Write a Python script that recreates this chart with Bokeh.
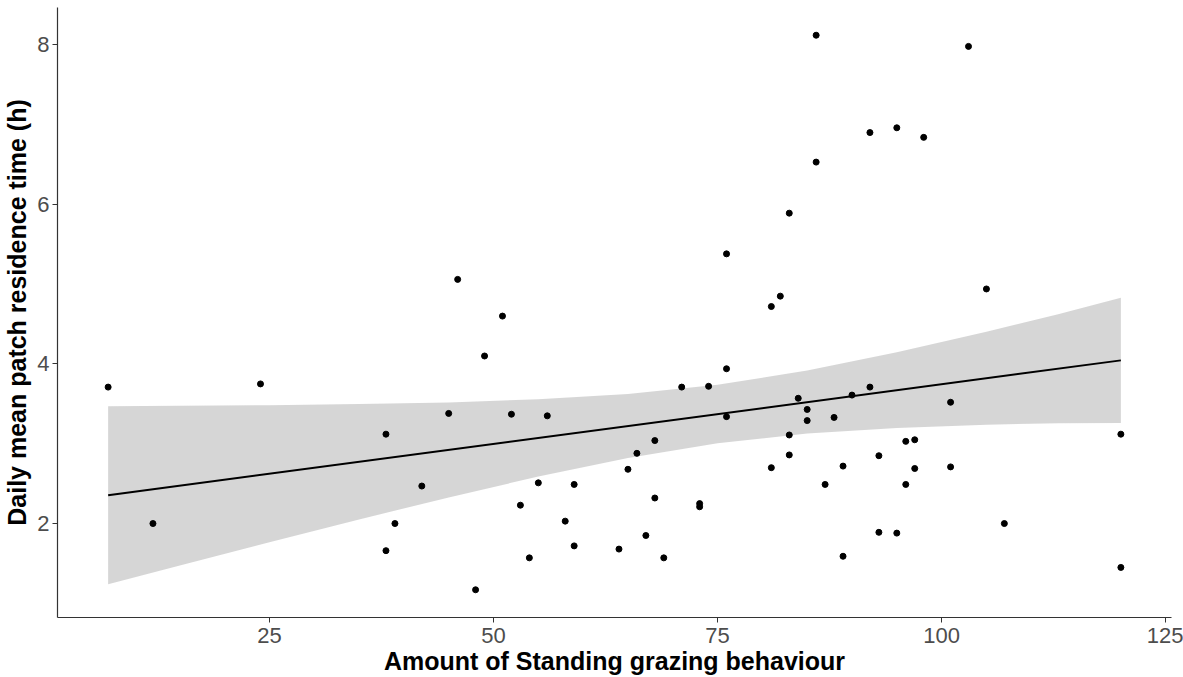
from bokeh.plotting import figure
from bokeh.models import Range1d, FixedTicker
from bokeh.embed import file_html
from bokeh.resources import INLINE

# Observed data: amount of standing grazing behaviour vs daily mean patch residence time (h)
x_vals = [7, 12, 24, 38, 38, 39, 42, 45, 46, 48, 49, 51, 52, 53, 54, 55, 56, 58, 59, 59,
          64, 65, 66, 67, 68, 68, 69, 71, 73, 73, 74, 76, 76, 76, 81, 81, 82, 83, 83, 83,
          84, 85, 85, 86, 86, 87, 88, 89, 89, 90, 92, 92, 93, 93, 95, 95, 96, 96, 97, 97,
          98, 101, 101, 103, 105, 107, 120, 120]
y_vals = [3.71, 2.00, 3.75, 3.12, 1.66, 2.00, 2.47, 3.38, 5.06, 1.17, 4.10, 4.60, 3.37, 2.23,
          1.57, 2.51, 3.35, 2.03, 2.49, 1.72, 1.68, 2.68, 2.88, 1.85, 3.04, 2.32, 1.57, 3.71,
          2.25, 2.21, 3.72, 5.38, 3.94, 3.34, 4.72, 2.70, 4.85, 5.89, 3.11, 2.86, 3.57, 3.43,
          3.29, 8.12, 6.53, 2.49, 3.33, 2.72, 1.59, 3.61, 6.90, 3.71, 2.85, 1.89, 6.96, 1.88,
          3.03, 2.49, 3.05, 2.69, 6.84, 3.52, 2.71, 7.98, 4.94, 2.00, 3.12, 1.45]

# Fitted linear trend and its confidence band
fit_x = [7, 120]
fit_y = [2.355, 4.045]
band_x = [7, 15, 25, 35, 45, 55, 65, 75, 85, 95, 105, 113, 120]
band_lower = [1.24, 1.475, 1.765, 2.051, 2.328, 2.589, 2.822, 3.006, 3.127, 3.198, 3.238, 3.258, 3.260]
band_upper = [3.47, 3.475, 3.483, 3.497, 3.518, 3.557, 3.624, 3.740, 3.917, 4.146, 4.404, 4.624, 4.830]

x_ticks = [25, 50, 75, 100, 125]
y_ticks = [2, 4, 6, 8]

xmin, xmax = min(x_vals), max(x_vals)
ymin, ymax = min(y_vals), max(y_vals)
xpad = 0.05 * (xmax - xmin)
ypad = 0.05 * (ymax - ymin)

p = figure(width=1183, height=677, output_backend="svg", toolbar_location=None,
           x_range=Range1d(xmin - xpad, xmax + xpad),
           y_range=Range1d(ymin - ypad, ymax + ypad),
           min_border_left=56, min_border_right=12, min_border_top=7, min_border_bottom=60)

p.varea(x=band_x, y1=band_lower, y2=band_upper, fill_color="#999999", fill_alpha=0.4)
p.line(fit_x, fit_y, line_color="black", line_width=2)
p.scatter(x_vals, y_vals, size=6, color="black")

p.xgrid.visible = False
p.ygrid.visible = False
p.outline_line_color = None
p.background_fill_color = "white"
p.border_fill_color = "white"

p.xaxis.ticker = FixedTicker(ticks=x_ticks)
p.yaxis.ticker = FixedTicker(ticks=y_ticks)
p.xaxis.axis_label = "Amount of Standing grazing behaviour"
p.yaxis.axis_label = "Daily mean patch residence time (h)"

for ax in (p.xaxis[0], p.yaxis[0]):
    ax.axis_line_color = "#333333"
    ax.axis_line_width = 1.2
    ax.major_tick_line_color = "#333333"
    ax.major_tick_in = 0
    ax.major_tick_out = 5
    ax.minor_tick_line_color = None
    ax.major_label_text_font = "Liberation Sans"
    ax.major_label_text_font_size = "22px"
    ax.major_label_text_color = "#4D4D4D"
    ax.axis_label_text_font = "Liberation Sans"
    ax.axis_label_text_font_style = "bold"
    ax.axis_label_text_font_size = "25px"
    ax.axis_label_text_color = "black"

p.xaxis.major_label_standoff = 5
p.xaxis.axis_label_standoff = 1
p.yaxis.major_label_standoff = 3
p.yaxis.axis_label_standoff = 3

open("out.html", "w").write(file_html(p, INLINE))
